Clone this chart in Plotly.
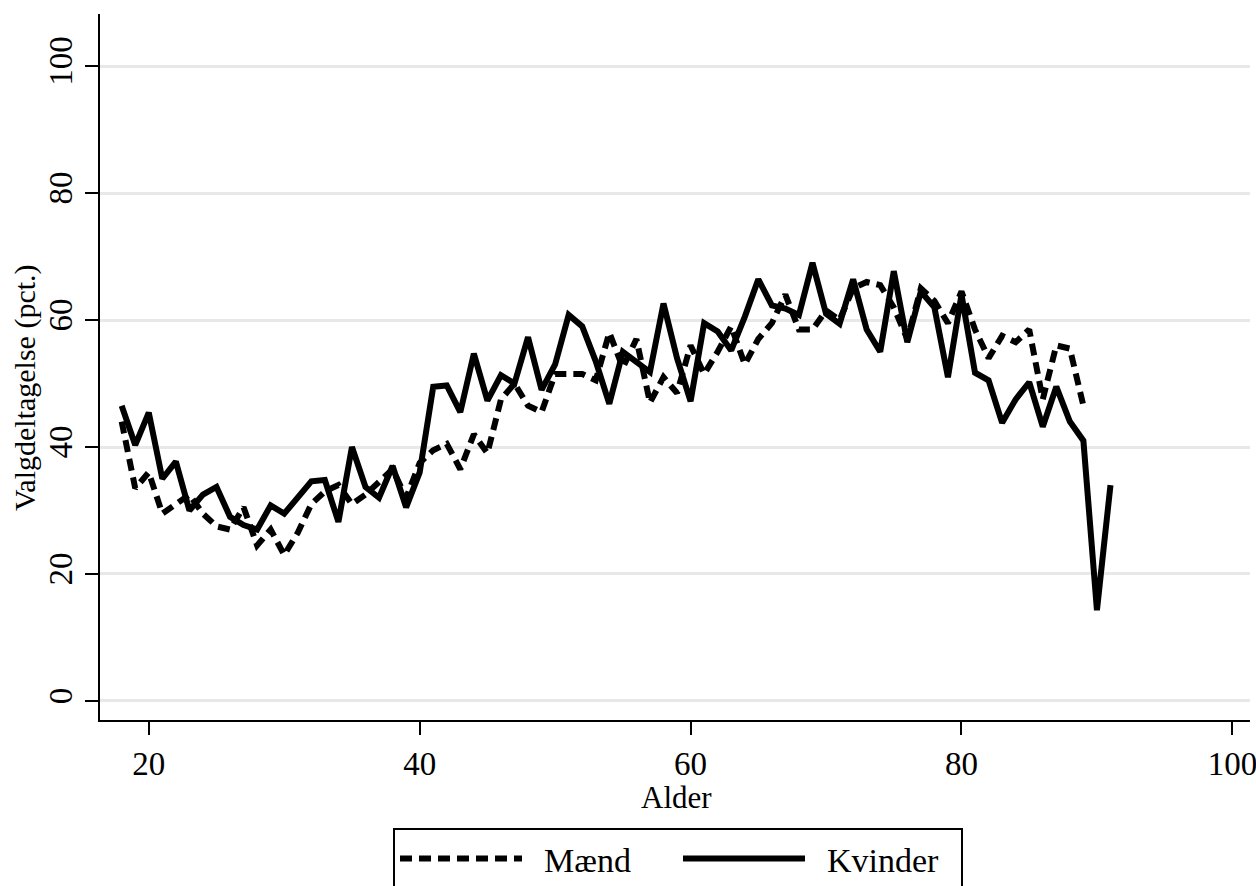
import plotly.graph_objects as go

ages_kvinder = list(range(18, 92))
kvinder = [46.5, 40.3, 45.4, 35, 37.7, 30, 32.5, 33.7, 29, 27.7,
           27, 30.8, 29.5, 32, 34.6, 34.8, 28.2, 40, 33.7, 32,
           37, 30.5, 36, 49.5, 49.7, 45.5, 54.7, 47.3, 51.3, 50,
           57.3, 49, 53, 60.8, 59, 53.5, 46.8, 55, 53.5, 51.8,
           62.6, 54, 47.2, 59.5, 58.2, 55.2, 60.5, 66.4, 62.3, 61.8,
           60.8, 69, 61, 59.4, 66.4, 58.5, 55, 67.7, 56.5, 64.5,
           62, 51, 64, 51.7, 50.5, 43.8, 47.5, 50.2, 43.2, 49.5,
           44, 41, 14.3, 34]

ages_maend = list(range(18, 90))
maend = [44, 33.5, 36, 29.5, 31, 32.5, 29.5, 27.5, 27, 30.5,
         24.5, 27, 23, 26.5, 31, 33, 34, 31, 32.5, 34.5,
         36.5, 32, 37.5, 39.5, 40.5, 36.5, 42, 39, 47.5, 50,
         46.5, 45.5, 51.5, 51.5, 51.5, 50.5, 58, 52.5, 57, 47,
         51, 48.5, 56, 51.5, 55, 59, 53, 57, 59.5, 64,
         58.5, 58.5, 61.5, 60, 65, 66, 65.5, 62, 57, 65,
         63, 59.5, 64.5, 58.5, 54, 57.5, 56.5, 58.5, 47.5, 56,
         55.5, 46.5]

x_ticks = [20, 40, 60, 80, 100]
y_ticks = [0, 20, 40, 60, 80, 100]
x_title = "Alder"
y_title = "Valgdeltagelse (pct.)"

FONT = "Liberation Serif, Times New Roman, serif"
NB = "\u00a0\u00a0"

fig = go.Figure()
fig.add_trace(go.Scatter(x=ages_maend, y=maend, mode="lines", name=NB + "Mænd",
                         line=dict(color="black", width=6, dash="12px,7px")))
fig.add_trace(go.Scatter(x=ages_kvinder, y=kvinder, mode="lines", name=NB + "Kvinder",
                         line=dict(color="black", width=6)))

fig.update_layout(
    width=1256, height=886,
    margin=dict(l=100, r=6, t=14, b=166),
    paper_bgcolor="white", plot_bgcolor="white",
    font=dict(family=FONT, size=30, color="black"),
    xaxis=dict(range=[16.4, 101.3], tickvals=x_ticks, showgrid=False, zeroline=False,
               showline=True, linecolor="black", linewidth=2, automargin=False,
               ticks="outside", ticklen=13, tickwidth=2, tickcolor="black",
               ticklabeloverflow="allow",
               tickfont=dict(family=FONT, size=33)),
    yaxis=dict(range=[-3, 108.2], tickvals=y_ticks, showgrid=True, gridcolor="#e8e8e8", gridwidth=3,
               zeroline=False, showline=True, linecolor="black", linewidth=2, automargin=False,
               ticks="outside", ticklen=13, tickwidth=2, tickcolor="black", tickangle=-90,
               ticklabeloverflow="allow",
               tickfont=dict(family=FONT, size=33)),
    showlegend=True,
    legend=dict(orientation="h", xref="container", x=678 / 1256, xanchor="center",
                yref="container", y=1 - 828 / 886, yanchor="top",
                bordercolor="black", borderwidth=2, font=dict(family=FONT, size=34),
                itemwidth=122, entrywidth=146, entrywidthmode="pixels",
                itemclick=False, itemdoubleclick=False),
    annotations=[
        dict(text=x_title, xref="paper", yref="paper", x=(676 - 100) / 1150,
             y=(720 - 797) / 706, xanchor="center", yanchor="middle", showarrow=False,
             font=dict(family=FONT, size=31)),
        dict(text=y_title, xref="paper", yref="paper", x=(25 - 100) / 1150,
             y=(720 - 388) / 706, xanchor="center", yanchor="middle", showarrow=False,
             textangle=-90, font=dict(family=FONT, size=30)),
    ],
)

fig.write_html("out.html", config={"displayModeBar": False},
               post_script="document.body.style.margin='0';document.body.style.overflow='hidden';")
